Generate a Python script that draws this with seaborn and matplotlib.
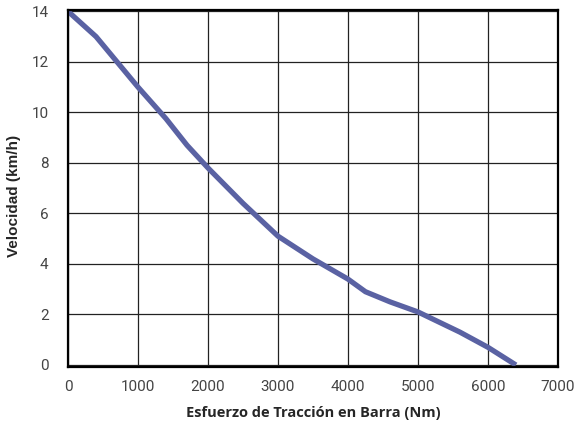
import matplotlib
matplotlib.use("Agg")
import matplotlib.pyplot as plt
import seaborn as sns
import pandas as pd

esfuerzo = [0, 400, 700, 1000, 1400, 1700, 2000, 2500, 3000, 3500, 4000, 4250, 4600, 5000, 5600, 6000, 6400]
velocidad = [14, 13, 12, 11, 9.75, 8.7, 7.8, 6.4, 5.1, 4.2, 3.4, 2.9, 2.5, 2.1, 1.3, 0.7, 0.0]
xticks = [0, 1000, 2000, 3000, 4000, 5000, 6000, 7000]
yticks = [0, 2, 4, 6, 8, 10, 12, 14]

df = pd.DataFrame({"x": esfuerzo, "y": velocidad})

sns.set_style("white")
plt.rcParams['font.family'] = ['Roboto', 'DejaVu Sans']

fig = plt.figure(figsize=(5.74, 4.28), dpi=100)
ax = fig.add_axes([0.1185, 0.1425, 0.8535, 0.834])

sns.lineplot(data=df, x="x", y="y", ax=ax, color="#5a62a3", linewidth=3.8,
             solid_capstyle="butt", solid_joinstyle="round")

ax.set_xlim(0, 7000)
ax.set_ylim(-0.08, 14.05)
ax.set_xticks(xticks)
ax.set_yticks(yticks)
ax.set_xticklabels([str(t) for t in xticks])
ax.set_yticklabels([str(t) for t in yticks])
ax.grid(True, color="#222222", linewidth=0.9)
ax.set_axisbelow(True)
for s in ax.spines.values():
    s.set_visible(True)
    s.set_color("black")
    s.set_linewidth(1.6)
ax.tick_params(axis="both", length=0, labelsize=11, labelcolor="#444444", pad=9)
ax.tick_params(axis="y", pad=14)
ax.set_xlabel("Esfuerzo de Tracción en Barra (Nm)", fontsize=10.5, fontweight="bold", labelpad=9, family=["Open Sans", "DejaVu Sans"])
ax.set_ylabel("Velocidad (km/h)", fontsize=11, fontweight="bold", family=["Liberation Sans", "DejaVu Sans"])
ax.yaxis.set_label_coords(-0.096, 0.48)

fig.savefig("out.png", dpi=100)
